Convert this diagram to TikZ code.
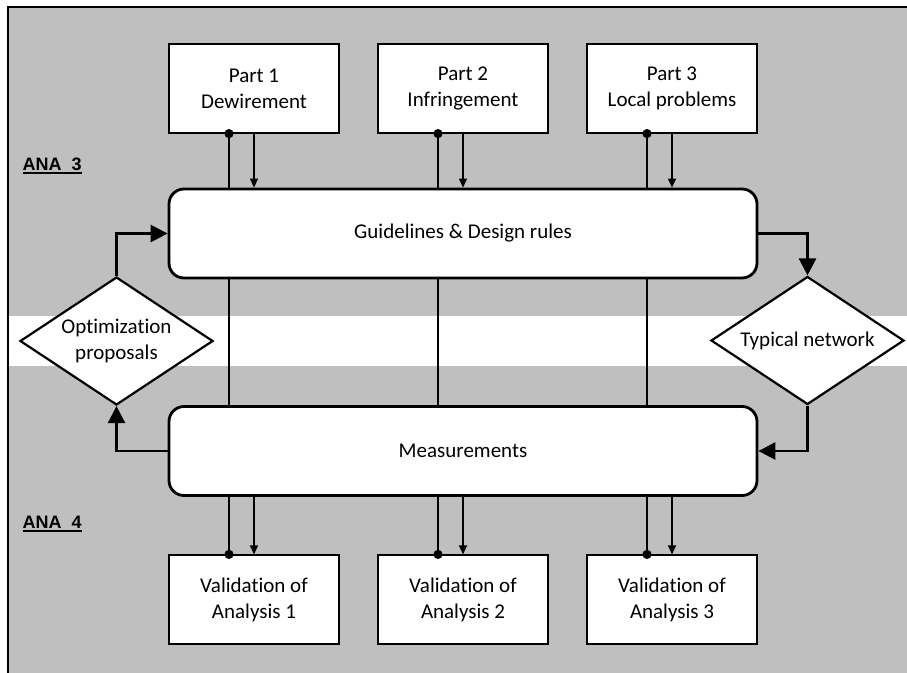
\documentclass[tikz,border=0pt]{standalone}
\usepackage{fontspec}
\setmainfont{Carlito}[Ligatures=NoCommon]
\newfontfamily\labelfont{Liberation Sans}
\usetikzlibrary{shapes.geometric,arrows.meta}
\definecolor{panelgray}{RGB}{191,191,191}
\begin{document}
\begin{tikzpicture}[x=1pt,y=-1pt,
  txt/.style={font=\fontsize{21}{26}\selectfont, align=center},
  partbox/.style={txt, draw, line width=1.2pt, fill=white, minimum width=170pt, minimum height=89pt, inner sep=0pt},
  bigbox/.style={txt, draw, line width=2.8pt, fill=white, rounded corners=15pt, minimum width=588pt, minimum height=89pt, inner sep=0pt},
  decision/.style={txt, draw, line width=2.2pt, fill=white, shape=diamond, aspect=1.5, minimum width=193pt, minimum height=128pt, inner sep=0pt},
  thinlink/.style={line width=1.2pt},
  thinarrow/.style={line width=1.2pt, -{Triangle[length=9pt,width=8pt]}},
  flow/.style={line width=2.6pt, -{Triangle[length=17pt,width=17pt]}},
  joint/.style={fill=black, radius=4.6pt},
  zone/.style={font=\labelfont\bfseries\fontsize{18}{20}\selectfont, anchor=base west, inner sep=0pt},
  zoneline/.style={line width=1.7pt}
]
\useasboundingbox (0,0) rectangle (907,672);
\clip (0,0) rectangle (907,672);

% background panels
\fill[panelgray] (8,7) rectangle (910,675);
\fill[white] (8,316) rectangle (910,366);
\draw[line width=1.5pt] (8,675) -- (8,7) -- (910,7);

% zone labels, underlined
\node[zone] (ana3) at (22.5,170.5) {ANA\ \ 3};
\node[zone] (ana4) at (22.5,528.5) {ANA\ \ 4};
\draw[zoneline] ([yshift=-2.5pt]ana3.base west) -- ([yshift=-2.5pt]ana3.base east);
\draw[zoneline] ([yshift=-2.5pt]ana4.base west) -- ([yshift=-2.5pt]ana4.base east);

% top inputs
\node[partbox] (p1) at (254,88.5) {Part 1\\Dewirement};
\node[partbox] (p2) at (463,88.5) {Part 2\\Infringement};
\node[partbox] (p3) at (672,88.5) {Part 3\\Local problems};

% central process boxes
\node[bigbox] (guide) at (463,233.5) {Guidelines \& Design rules};
\node[bigbox] (meas) at (463,451) {Measurements};

% bottom outputs
\node[partbox] (v1) at (254,599.5) {Validation of\\Analysis 1};
\node[partbox] (v2) at (463,599.5) {Validation of\\Analysis 2};
\node[partbox] (v3) at (672,599.5) {Validation of\\Analysis 3};

% decisions
\node[decision] (opt) at (116.5,341) {Optimization\\proposals};
\node[decision] (typ) at (807.5,340.5) {Typical network};

% links between parts, guidelines, measurements and validations
\foreach \a/\b in {p1/v1, p2/v2, p3/v3}{
  \coordinate (\a top) at ([xshift=-25pt]\a.south);
  \coordinate (\b bot) at ([xshift=-25pt]\b.north);
  \draw[thinlink] (\a top) -- (\a top |- guide.north);
  \draw[thinlink] (\a top |- guide.south) -- (\a top |- meas.north);
  \draw[thinlink] (\b bot |- meas.south) -- (\b bot);
  \draw[thinarrow] (\a.south) -- (\a.south |- guide.north);
  \draw[thinarrow] (\b.north |- meas.south) -- (\b.north);
  \fill[joint] (\a top) circle;
  \fill[joint] (\b bot) circle;
}

% feedback loop
\draw[flow] (guide.east) -| (typ.north);
\draw[flow] (typ.south) |- (meas.east);
\draw[flow] (meas.west) -| (opt.south);
\draw[flow] (opt.north) |- (guide.west);
\end{tikzpicture}
\end{document}
